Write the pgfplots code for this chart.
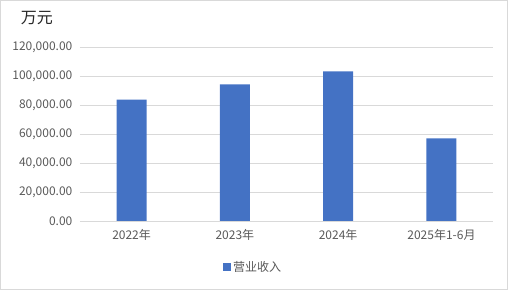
\documentclass[border=0pt]{standalone}
\usepackage{pgfplots}
\pgfplotsset{compat=1.18}
\usepackage{fontspec}
\setmainfont{Noto Sans CJK SC}
\definecolor{barblue}{HTML}{4472C4}
\definecolor{gridgray}{HTML}{D9D9D9}
\definecolor{txtgray}{HTML}{595959}
\begin{document}
\begin{tikzpicture}[x=1pt,y=1pt]
\draw[gridgray, line width=0.8pt] (0.5,0.5) rectangle (507.5,289.5);
\node[font=\fontsize{16}{16}\selectfont, text=black!85, anchor=center] at (37,272) {万元};
\begin{axis}[
  at={(80pt,69pt)}, anchor=south west,
  scale only axis, width=413pt, height=174pt,
  xmin=-0.5, xmax=3.5, ymin=0, ymax=120000,
  ytick={0,20000,40000,60000,80000,100000,120000},
  xtick={0,1,2,3},
  xticklabels={2022年,2023年,2024年,2025年1-6月},
  scaled y ticks=false,
  yticklabel style={/pgf/number format/fixed, /pgf/number format/fixed zerofill, /pgf/number format/precision=2, /pgf/number format/1000 sep={,}, /pgf/number format/assume math mode=true, xshift=-4pt},
  ticklabel style={font=\fontsize{12}{12}\selectfont, text=txtgray},
  ymajorgrids, grid style={gridgray, line width=0.7pt},
  axis x line*=bottom, axis y line*=left,
  x axis line style={gridgray, line width=0.8pt, -},
  y axis line style={draw=none},
  major tick length=0pt,
  xticklabel style={yshift=-5pt},
  legend style={at={(0.419,-0.267)}, anchor=center, draw=none, font=\fontsize{12}{12}\selectfont, text=txtgray, inner sep=0pt},
  legend image code/.code={\fill[barblue] (0pt,-4pt) rectangle (8pt,4pt);},
]
\addplot[ybar, bar width=30pt, fill=barblue, draw=none] coordinates {
(0,83600) (1,94100) (2,103100) (3,57000)
};
\addlegendentry{营业收入}
\end{axis}
\end{tikzpicture}
\end{document}
